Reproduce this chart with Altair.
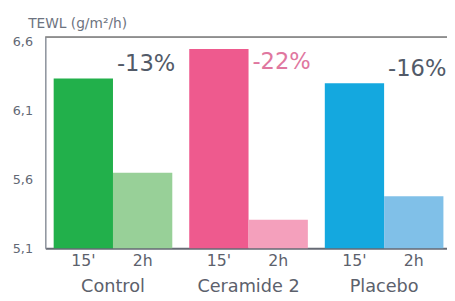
import altair as alt
import pandas as pd

groups = ["Control", "Ceramide 2", "Placebo"]
times = ["15'", "2h"]
tewl_15 = [6.335, 6.55, 6.30]
tewl_2h = [5.65, 5.307, 5.478]
changes = ["-13%", "-22%", "-16%"]
change_y = [6.436, 6.457, 6.400]
y_ticks = [5.1, 5.6, 6.1, 6.6]

colors_15 = ["#22b04b", "#ee5a8e", "#14a8df"]
colors_2h = ["#98d098", "#f4a0bc", "#80c0e8"]
change_colors = ["#525a68", "#e0779f", "#525a68"]

FONT = "DejaVu Sans"
W, H = 409, 215

rows = []
for g, a, b in zip(groups, tewl_15, tewl_2h):
    rows.append({"group": g, "time": times[0], "value": a, "key": g + "|" + times[0]})
    rows.append({"group": g, "time": times[1], "value": b, "key": g + "|" + times[1]})
bars_df = pd.DataFrame(rows)

key_domain = []
key_range = []
for g, c1, c2 in zip(groups, colors_15, colors_2h):
    key_domain += [g + "|" + times[0], g + "|" + times[1]]
    key_range += [c1, c2]

ann_df = pd.DataFrame({"group": groups, "value": change_y, "label": changes, "col": change_colors})

x_enc = alt.X(
    "group:N", sort=groups,
    scale=alt.Scale(paddingInner=0.125, paddingOuter=0.044, align=0.7),
    axis=alt.Axis(title=None, ticks=False, labelPadding=30, labelFont=FONT,
                  labelFontSize=18, labelColor="#5c616c", labelAngle=0,
                  domainColor="#666a74", domainWidth=2),
)
y_enc = alt.Y(
    "value:Q",
    scale=alt.Scale(domain=[5.1, 6.636], zero=False, nice=False),
    axis=alt.Axis(values=y_ticks, grid=False, ticks=False, labelPadding=13,
                  labelFont=FONT, labelFontSize=13, labelColor="#626874",
                  labelExpr="replace(format(datum.value, '.1f'), '.', ',')",
                  domainColor="#8a909a", domainWidth=1.5,
                  title="TEWL (g/m²/h)", titleAngle=0, titleAlign="left",
                  titleX=-18, titleY=-10, titleBaseline="alphabetic",
                  titleFont=FONT, titleFontSize=14, titleFontWeight="normal",
                  titleColor="#6d7380"),
)

bars = alt.Chart(bars_df).mark_bar().encode(
    x=x_enc,
    xOffset=alt.XOffset("time:N", sort=times, scale=alt.Scale(paddingInner=0, paddingOuter=0)),
    y=y_enc,
    y2=alt.datum(5.1),
    color=alt.Color("key:N", scale=alt.Scale(domain=key_domain, range=key_range), legend=None),
)

time_labels = alt.Chart(bars_df).mark_text(
    font=FONT, fontSize=16, baseline="middle", color="#5c616c"
).encode(
    x=alt.X("group:N", sort=groups),
    xOffset=alt.XOffset("time:N", sort=times),
    y=alt.value(H + 13),
    text="time:N",
)

ann = alt.Chart(ann_df).mark_text(
    font=FONT, fontSize=23, align="left", baseline="middle", dx=4
).encode(
    x=alt.X("group:N", sort=groups, bandPosition=0.5),
    y=alt.Y("value:Q"),
    text="label:N",
    color=alt.Color("col:N", scale=None),
)

top_line = alt.Chart(ann_df).mark_rule(color="#8c8c8c", strokeWidth=1.5).encode(
    x=alt.value(0), x2=alt.value(W), y=alt.value(0)
)

chart = alt.layer(bars, time_labels, ann, top_line).properties(
    width=W, height=H,
    autosize=alt.AutoSizeParams(type="none"),
    padding={"left": 38, "top": 27, "right": 0, "bottom": 48},
).configure_view(stroke=None)

chart.save("out.html", embed_options={"renderer": "svg", "actions": False})
